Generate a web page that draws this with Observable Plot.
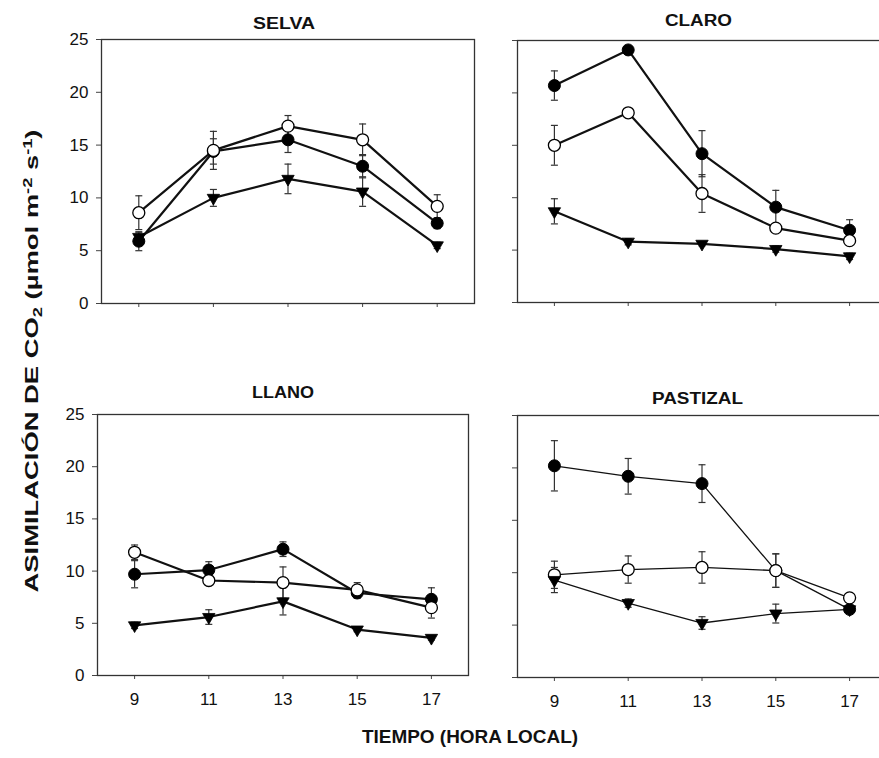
<!DOCTYPE html>
<html><head><meta charset="utf-8">
<script src="https://cdn.jsdelivr.net/npm/d3@7"></script>
<script src="https://cdn.jsdelivr.net/npm/@observablehq/plot@0.6"></script>
<style>
html,body{margin:0;padding:0;background:#fff;overflow:hidden;}
#root{position:relative;width:879px;height:758px;overflow:hidden;font-family:"Liberation Sans",Arial,sans-serif;}
#root > svg, #root > .p{position:absolute;}
</style></head><body><div id="root"></div>
<script>
// ---- data ----
const hours = [9, 11, 13, 15, 17];
const yTicks = [0, 5, 10, 15, 20, 25];
const panelNames = ["SELVA", "CLARO", "LLANO", "PASTIZAL"];

const selvaOpen = [8.6, 14.5, 16.8, 15.5, 9.2];
const selvaOpenErr = [1.6, 1.8, 1.0, 1.5, 1.1];
const selvaFilled = [5.9, 14.4, 15.5, 13.0, 7.6];
const selvaFilledErr = [0.9, 1.2, 1.2, 1.1, 0.5];
const selvaTri = [6.3, 10.0, 11.8, 10.6, 5.5];
const selvaTriErr = [0.4, 0.8, 1.4, 1.4, 0.3];

const claroOpen = [15.0, 18.1, 10.4, 7.1, 5.9];
const claroOpenErr = [1.9, 0.3, 1.8, 0.4, 0.4];
const claroFilled = [20.7, 24.1, 14.2, 9.1, 6.9];
const claroFilledErr = [1.4, 0.3, 2.2, 1.6, 1.0];
const claroTri = [8.7, 5.8, 5.6, 5.1, 4.4];
const claroTriErr = [1.2, 0.3, 0.2, 0.3, 0.3];

const llanoOpen = [11.8, 9.1, 8.9, 8.2, 6.5];
const llanoOpenErr = [0.7, 0.4, 1.5, 0.7, 1.0];
const llanoFilled = [9.7, 10.1, 12.1, 7.9, 7.3];
const llanoFilledErr = [1.3, 0.8, 0.7, 0.5, 1.1];
const llanoTri = [4.8, 5.6, 7.1, 4.4, 3.6];
const llanoTriErr = [0.3, 0.7, 1.3, 0.2, 0.2];

const pastizalOpen = [9.8, 10.3, 10.5, 10.2, 7.6];
const pastizalOpenErr = [1.3, 1.3, 1.5, 1.6, 0.3];
const pastizalFilled = [20.2, 19.2, 18.5, 10.2, 6.5];
const pastizalFilledErr = [2.4, 1.7, 1.8, 1.6, 0.3];
const pastizalTri = [9.3, 7.1, 5.2, 6.1, 6.5];
const pastizalTriErr = [1.2, 0.4, 0.6, 0.9, 0.2];

// ---- layout ----
const root = document.getElementById("root");
const FONT = '"Liberation Sans", Arial, sans-serif';

function rows(vals, errs, kind) {
  return hours.map((h, i) => ({hour: h, value: vals[i], err: errs[i], kind}));
}

const cap = {draw(ctx) { ctx.moveTo(-3.5, 0); ctx.lineTo(3.5, 0); }};

function panel(series, frame, lw, showX, showY) {
  const ml = 45, mr = 4, mt = 4, mb = 34;
  const w = frame[2] - frame[0], h = frame[3] - frame[1];
  const all = series.flat();
  const filled = all.filter(d => d.kind === "filled");
  const open = all.filter(d => d.kind === "open");
  const tri = all.filter(d => d.kind === "tri");
  const plot = Plot.plot({
    width: w + ml + mr, height: h + mt + mb,
    marginLeft: ml, marginRight: mr, marginTop: mt, marginBottom: mb,
    x: {domain: [8, 18]},
    y: {domain: [0, 25]},
    style: {fontFamily: FONT, fontSize: "17px", color: "#111", background: "transparent", overflow: "visible"},
    marks: [
      Plot.axisX({ticks: hours, tickSize: 4, tickPadding: 13, label: null, fontSize: 17,
        tickFormat: showX ? (d => String(d)) : (() => ""), stroke: "#444"}),
      Plot.axisY({ticks: yTicks, tickSize: 5, tickPadding: 8, label: null, fontSize: 17,
        tickFormat: showY ? (d => String(d)) : (() => ""), stroke: "#444"}),
      Plot.frame({stroke: "#333", strokeWidth: 1.3}),
      Plot.line(all, {x: "hour", y: "value", z: "kind", stroke: "#111", strokeWidth: lw}),
      Plot.ruleX(all, {x: "hour", y1: d => d.value - d.err, y2: d => d.value + d.err, stroke: "#333", strokeWidth: 1.2}),
      Plot.dot(all, {x: "hour", y: d => d.value + d.err, symbol: cap, r: 4, stroke: "#333", strokeWidth: 1.2}),
      Plot.dot(all, {x: "hour", y: d => d.value - d.err, symbol: cap, r: 4, stroke: "#333", strokeWidth: 1.2}),
      Plot.dot(filled, {x: "hour", y: "value", r: 6, fill: "#000", stroke: "#000", strokeWidth: 1}),
      Plot.dot(open, {x: "hour", y: "value", r: 6, fill: "#fff", stroke: "#000", strokeWidth: 1.3}),
      Plot.dot(tri, {x: "hour", y: "value", r: 4.6, symbol: "triangle", rotate: 180, fill: "#000", stroke: "#000", strokeWidth: 0.8})
    ]
  });
  plot.style.left = (frame[0] - ml) + "px";
  plot.style.top = (frame[1] - mt) + "px";
  plot.style.position = "absolute";
  root.appendChild(plot);
}

panel([rows(selvaOpen, selvaOpenErr, "open"), rows(selvaFilled, selvaFilledErr, "filled"), rows(selvaTri, selvaTriErr, "tri")],
  [101, 39, 474, 303], 2.2, false, true);
panel([rows(claroOpen, claroOpenErr, "open"), rows(claroFilled, claroFilledErr, "filled"), rows(claroTri, claroTriErr, "tri")],
  [517, 40, 886, 302], 2.2, false, false);
panel([rows(llanoOpen, llanoOpenErr, "open"), rows(llanoFilled, llanoFilledErr, "filled"), rows(llanoTri, llanoTriErr, "tri")],
  [97, 414, 468, 675], 2.2, true, true);
panel([rows(pastizalOpen, pastizalOpenErr, "open"), rows(pastizalFilled, pastizalFilledErr, "filled"), rows(pastizalTri, pastizalTriErr, "tri")],
  [517, 415, 886, 677], 1.3, true, false);

// ---- titles and axis labels (overlay) ----
const ns = "http://www.w3.org/2000/svg";
const ov = document.createElementNS(ns, "svg");
ov.setAttribute("width", 879); ov.setAttribute("height", 758);
ov.style.position = "absolute"; ov.style.left = "0px"; ov.style.top = "0px"; ov.style.pointerEvents = "none";
ov.setAttribute("font-family", FONT);
root.appendChild(ov);

function addText(str, x, y, size, len) {
  const t = document.createElementNS(ns, "text");
  t.setAttribute("x", x); t.setAttribute("y", y);
  t.setAttribute("font-size", size); t.setAttribute("font-weight", "bold");
  t.setAttribute("text-anchor", "middle"); t.setAttribute("fill", "#111");
  if (len) { t.setAttribute("textLength", len); t.setAttribute("lengthAdjust", "spacingAndGlyphs"); }
  t.textContent = str;
  ov.appendChild(t);
  return t;
}
const titlePos = [[284, 28.5, 62], [698.5, 26, 67], [283, 397.5, 62], [697.5, 403.5, 91]];
panelNames.forEach((n, i) => addText(n, titlePos[i][0], titlePos[i][1], 16, titlePos[i][2]));

addText("TIEMPO (HORA LOCAL)", 470, 743, 18, 216);

// rotated y label with sub/superscripts
const yl = document.createElementNS(ns, "text");
yl.setAttribute("transform", "translate(38,361) rotate(-90)");
yl.setAttribute("font-size", 18); yl.setAttribute("font-weight", "bold");
yl.setAttribute("text-anchor", "middle"); yl.setAttribute("fill", "#111");
yl.setAttribute("textLength", 463); yl.setAttribute("lengthAdjust", "spacingAndGlyphs");
const parts = [["ASIMILACIÓN DE CO", 0], ["2", 4], [" (µmol m", -4], ["-2", -6], [" s", 6], ["-1", -6], [")", 6]];
parts.forEach(([s, dy], i) => {
  const ts = document.createElementNS(ns, "tspan");
  ts.textContent = s;
  if (s === "2" || s === "-2" || s === "-1") ts.setAttribute("font-size", 12);
  if (dy) ts.setAttribute("dy", dy);
  yl.appendChild(ts);
});
ov.appendChild(yl);
</script></body></html>
